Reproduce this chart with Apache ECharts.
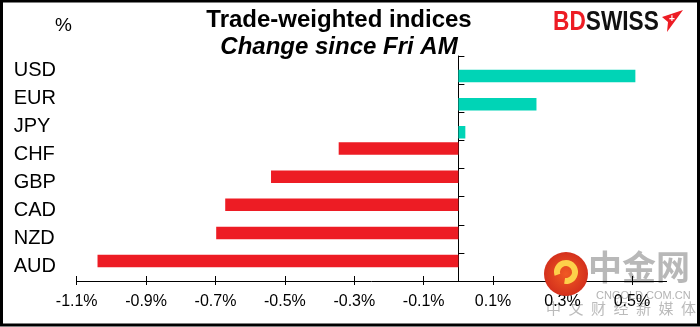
<!DOCTYPE html>
<html>
<head>
<meta charset="utf-8">
<script src="https://cdn.jsdelivr.net/npm/echarts@6/dist/echarts.min.js"></script>
<style>
html,body{margin:0;padding:0;background:#fff;}
#chart{width:700px;height:327px;}
</style>
</head>
<body>
<div id="chart"></div>
<script>
// Data
var categories = ['USD', 'EUR', 'JPY', 'CHF', 'GBP', 'CAD', 'NZD', 'AUD'];
var changes = [0.51, 0.225, 0.02, -0.345, -0.54, -0.672, -0.698, -1.04];
var xTickValues = [-1.1, -0.9, -0.7, -0.5, -0.3, -0.1, 0.1, 0.3, 0.5];
var titleLine1 = 'Trade-weighted indices';
var titleLine2 = 'Change since Fri AM';
var watermarkChars = ['中', '文', '财', '经', '新', '媒', '体'];

var negValues = changes.map(function (v) { return v < 0 ? v : '-'; });
var posValues = changes.map(function (v) { return v >= 0 ? v : '-'; });

var chart = echarts.init(document.getElementById('chart'), null, {renderer: 'canvas'});
var font = 'Liberation Sans, Arial, sans-serif';

var graphics = [
  {type: 'text', x: 339, y: 8, style: {text: titleLine1, fill: '#000', font: 'bold 24px ' + font, textAlign: 'center', textVerticalAlign: 'top'}},
  {type: 'text', x: 339, y: 35, style: {text: titleLine2, fill: '#000', font: 'italic bold 24px ' + font, textAlign: 'center', textVerticalAlign: 'top'}},
  {type: 'text', x: 55, y: 16, style: {text: '%', fill: '#000', font: '19px ' + font}},
  // BDSWISS logo
  {type: 'text', x: 553, y: 8, scaleX: 0.81, style: {
    rich: {
      a: {fill: '#ED1C24', font: 'bold 28px "Liberation Sans", Arial, sans-serif'},
      b: {fill: '#111', font: 'bold 28px "Liberation Sans", Arial, sans-serif'}
    },
    text: '{a|BD}{b|SWISS}'
  }},
  {type: 'polygon', shape: {points: [[662, 17], [683, 10], [667, 32], [668, 22]]}, style: {fill: '#ED1C24'}},
  {type: 'text', x: 669, y: 14, style: {text: '+', fill: '#fff', font: 'bold 10px ' + font}},
  // watermark
  {type: 'text', x: 588, y: 250, style: {text: '中金网', fill: 'rgba(160,160,160,0.75)', font: 'bold 34px "Noto Sans CJK SC", sans-serif'}},
  {type: 'text', x: 596, y: 290, style: {text: 'CNGOLD.COM.CN', fill: 'rgba(160,160,160,0.8)', font: '11px ' + font}},
  {type: 'circle', shape: {cx: 566, cy: 274, r: 22}, style: {fill: {type: 'radial', x: 0.5, y: 0.5, r: 0.5, colorStops: [{offset: 0, color: '#F05A24'}, {offset: 1, color: '#D4301C'}]}}, z: 10},
  {type: 'arc', shape: {cx: 566, cy: 272, r: 9, startAngle: -Math.PI * 1.1, endAngle: Math.PI * 0.55}, style: {stroke: '#FDD04A', lineWidth: 6, fill: null}, z: 11},
  // border
  {type: 'rect', shape: {x: 1.5, y: 1, width: 697, height: 324}, style: {fill: null, stroke: '#000', lineWidth: 3}, z: 20}
];
watermarkChars.forEach(function (c, i) {
  graphics.push({type: 'text', x: 546 + i * 22.5, y: 301, style: {text: c, fill: 'rgba(170,170,170,0.8)', font: '15px "Noto Sans CJK SC", sans-serif'}});
});

var option = {
  backgroundColor: '#ffffff',
  animation: false,
  grid: {left: 76.7, right: 33.4, top: 56, bottom: 46, containLabel: false},
  xAxis: [{
    type: 'value',
    position: 'bottom',
    min: -1.1,
    max: 0.6,
    splitLine: {show: false},
    axisLine: {show: true, onZero: false, lineStyle: {color: '#000', width: 1}},
    axisTick: {show: true, length: 4, customValues: xTickValues, lineStyle: {color: '#000'}},
    axisLabel: {
      customValues: xTickValues,
      color: '#000', fontFamily: font, fontSize: 16, margin: 13,
      formatter: function (v) { return (Math.round(v * 10) / 10).toFixed(1) + '%'; }
    }
  }, {
    type: 'value',
    position: 'bottom',
    min: -1.1,
    max: 0.6,
    splitLine: {show: false},
    axisLine: {show: false, onZero: false},
    axisTick: {show: true, inside: true, length: 5, customValues: xTickValues, lineStyle: {color: '#000'}},
    axisLabel: {show: false}
  }],
  yAxis: [{
    type: 'category',
    data: categories,
    inverse: true,
    position: 'left',
    axisLine: {show: false, onZero: false},
    axisTick: {show: false},
    axisLabel: {color: '#000', fontFamily: font, fontSize: 20, align: 'left', margin: 63}
  }, {
    type: 'category',
    data: categories,
    inverse: true,
    position: 'left',
    axisLine: {show: true, onZero: true, lineStyle: {color: '#000', width: 1}},
    axisTick: {show: true, inside: true, length: 6, lineStyle: {color: '#000'}},
    axisLabel: {show: false}
  }],
  series: [{
    name: 'neg',
    type: 'bar',
    data: negValues,
    barWidth: 12.5,
    barGap: '-5%',
    itemStyle: {color: '#ED1C24'},
    z: 1
  }, {
    name: 'pos',
    type: 'bar',
    data: posValues,
    barWidth: 12.5,
    barGap: '-5%',
    itemStyle: {color: '#00D4B6'},
    z: 1
  }],
  graphic: graphics
};
chart.setOption(option);
</script>
</body>
</html>
